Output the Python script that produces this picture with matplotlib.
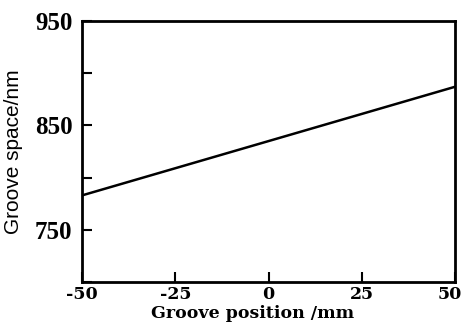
import matplotlib.pyplot as plt
import matplotlib.transforms as mtransforms
from matplotlib.ticker import MultipleLocator

plt.rcParams['axes.unicode_minus'] = False

# Groove position (mm) and groove space (nm)
position = [-50, -25, 0, 25, 50]
space = [783, 809, 835, 861, 887]

x_ticks = [-50, -25, 0, 25, 50]
x_labels = ['-50', '-25', '0', '25', '50']
y_ticks = [750, 850, 950]

fig = plt.figure(figsize=(4.62, 3.23), dpi=100)
ax = fig.add_axes([0.178, 0.127, 0.807, 0.808])

ax.plot(position, space, color='black', linewidth=1.8)

ax.set_xlim(-50, 50)
ax.set_ylim(700, 950)
ax.set_xticks(x_ticks)
ax.set_xticklabels(x_labels, fontfamily='DejaVu Serif', fontweight='bold', fontsize=12.5)
ax.set_yticks(y_ticks)
ax.set_yticklabels([str(v) for v in y_ticks], fontfamily='Liberation Serif',
                   fontweight='bold', fontsize=18)
ax.yaxis.set_minor_locator(MultipleLocator(50))
ax.tick_params(which='both', direction='in', top=False, right=False, width=1.5,
               colors='black', length=7)
ax.tick_params(axis='x', pad=3)
ax.tick_params(axis='y', pad=7)

# keep the last x label inside the picture
last = ax.get_xticklabels()[-1]
last.set_horizontalalignment('right')
last.set_transform(last.get_transform() + mtransforms.ScaledTranslation(7 / 100, 0, fig.dpi_scale_trans))

for sp in ax.spines.values():
    sp.set_linewidth(2)

ax.set_xlabel('Groove position /mm', fontfamily='DejaVu Serif', fontweight='bold',
              fontsize=12.5)
ax.xaxis.set_label_coords(0.456, -0.088)
ax.set_ylabel('Groove space/nm', fontfamily='Liberation Sans', fontsize=15)
ax.yaxis.set_label_coords(-0.16, 0.5)

fig.savefig('out.png', dpi=100)
